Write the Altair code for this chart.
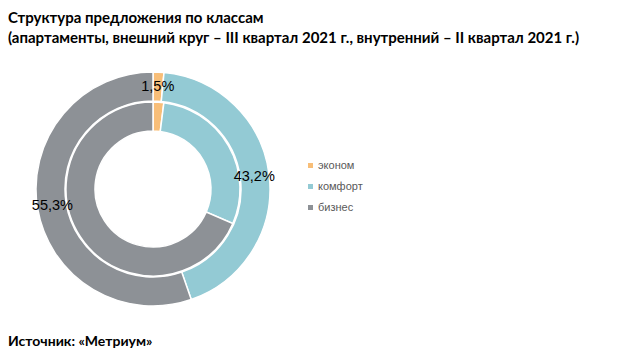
import altair as alt
import pandas as pd

categories = ["эконом", "комфорт", "бизнес"]
outer_values = [1.5, 43.2, 55.3]   # III квартал 2021 г.
inner_values = [2.0, 29.5, 68.5]   # II квартал 2021 г.
outer_labels = ["1,5%", "43,2%", "55,3%"]
colors = ["#F8BE78", "#93CAD4", "#8D9196"]

title_line1 = "Структура предложения по классам"
title_line2 = "(апартаменты, внешний круг – III квартал 2021 г., внутренний – II квартал 2021 г.)"
source_text = "Источник: «Метриум»"

rows = []
for i, c in enumerate(categories):
    rows.append({"ring": "outer", "cat": c, "value": outer_values[i], "label": outer_labels[i], "idx": i})
for i, c in enumerate(categories):
    rows.append({"ring": "inner", "cat": c, "value": inner_values[i], "label": "", "idx": i})
df = pd.DataFrame(rows)

CX, CY = 145, 181

color = alt.Color(
    "cat:N",
    scale=alt.Scale(domain=categories, range=colors),
    sort=categories,
    legend=alt.Legend(
        title=None,
        orient="none",
        legendX=297,
        legendY=152,
        symbolType="square",
        symbolSize=25,
        symbolStrokeWidth=0,
        labelFontSize=11,
        labelFont="Liberation Sans",
        labelColor="#595959",
        labelOffset=2,
        rowPadding=9,
    ),
)

base = alt.Chart(df).encode(
    theta=alt.Theta("value:Q", stack=True),
    order=alt.Order("idx:Q"),
    x=alt.value(CX),
    y=alt.value(CY),
)

outer = base.transform_filter(alt.datum.ring == "outer").mark_arc(
    innerRadius=88, outerRadius=117, stroke="white", strokeWidth=1.5
).encode(color=color)

inner = base.transform_filter(alt.datum.ring == "inner").mark_arc(
    innerRadius=58, outerRadius=87, stroke="white", strokeWidth=1.5
).encode(color=color)

labels = base.transform_filter(alt.datum.ring == "outer").mark_text(
    radius=102, fontSize=14.5, font="Liberation Sans", color="#000000"
).encode(text="label:N")

titles = pd.DataFrame({"t": [title_line1, title_line2, source_text], "k": [0, 1, 2]})

TF = "Lato"
t1 = alt.Chart(titles).transform_filter(alt.datum.k == 0).mark_text(
    align="left", baseline="top", font=TF, fontWeight="bold", fontSize=15, color="#000000"
).encode(text="t:N", x=alt.value(0), y=alt.value(3))
t2 = alt.Chart(titles).transform_filter(alt.datum.k == 1).mark_text(
    align="left", baseline="alphabetic", font=TF, fontWeight="bold", fontSize=15, color="#000000"
).encode(text="t:N", x=alt.value(0), y=alt.value(35))
t3 = alt.Chart(titles).transform_filter(alt.datum.k == 2).mark_text(
    align="left", baseline="alphabetic", font=TF, fontWeight="bold", fontSize=14, color="#000000"
).encode(text="t:N", x=alt.value(0), y=alt.value(338))

chart = alt.layer(outer, inner, labels, t1, t2, t3).resolve_scale(theta="independent").properties(
    width=625,
    height=341,
    autosize=alt.AutoSizeParams(type="none"),
    padding=0,
    background="white",
).configure_view(stroke=None, strokeWidth=0)

chart.save("out.html", embed_options={"renderer": "svg", "actions": False})
